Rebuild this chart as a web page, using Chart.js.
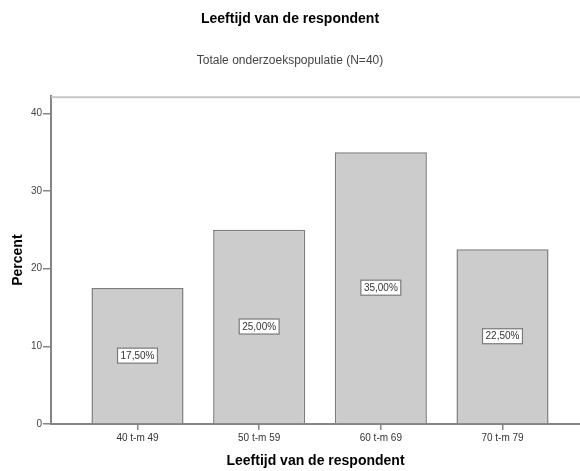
<!DOCTYPE html>
<html>
<head>
<meta charset="utf-8">
<script src="https://cdn.jsdelivr.net/npm/chart.js@4/dist/chart.umd.min.js"></script>
<style>
  html, body { margin: 0; padding: 0; background: #fff; overflow: hidden; }
  #wrap { width: 580px; height: 471px; position: relative; }
</style>
</head>
<body>
<div id="wrap"><canvas id="chart" width="580" height="471"></canvas></div>
<script>
// Age groups of the respondents and their share (percent)
const categories = ['40 t-m 49', '50 t-m 59', '60 t-m 69', '70 t-m 79'];
const percent = [17.5, 25.0, 35.0, 22.5];
const yTicks = [0, 10, 20, 30, 40];

const FONT = "'Liberation Sans', Arial, sans-serif";
const AXIS_GREY = '#858585';

// Dutch style value label: 17,50%
function fmt(v) {
  return v.toFixed(2).replace('.', ',') + '%';
}

// Boxed value labels in the middle of each bar
const boxedLabels = {
  id: 'boxedLabels',
  afterDatasetsDraw(chart) {
    const ctx = chart.ctx;
    const meta = chart.getDatasetMeta(0);
    ctx.save();
    ctx.font = '10px ' + FONT;
    ctx.textAlign = 'center';
    ctx.textBaseline = 'middle';
    meta.data.forEach((bar, i) => {
      const text = fmt(percent[i]);
      const w = ctx.measureText(text).width + 6;
      const h = 15;
      const cx = bar.x;
      const cy = (bar.y + bar.base) / 2;
      ctx.fillStyle = '#ffffff';
      ctx.fillRect(cx - w / 2, cy - h / 2, w, h);
      ctx.strokeStyle = '#7a7a7a';
      ctx.lineWidth = 1.2;
      ctx.strokeRect(cx - w / 2, cy - h / 2, w, h);
      ctx.fillStyle = '#333';
      ctx.fillText(text, cx, cy + 0.5);
    });
    ctx.restore();
  }
};

// Light frame line along the top of the plot area
const topFrame = {
  id: 'topFrame',
  beforeDatasetsDraw(chart) {
    const {ctx, chartArea} = chart;
    ctx.save();
    ctx.strokeStyle = '#c6c6c6';
    ctx.lineWidth = 2;
    ctx.beginPath();
    ctx.moveTo(chartArea.left, chartArea.top + 1);
    ctx.lineTo(chartArea.right, chartArea.top + 1);
    ctx.stroke();
    ctx.restore();
  }
};

new Chart(document.getElementById('chart'), {
  type: 'bar',
  data: {
    datasets: [{
      data: categories.map((c, i) => ({x: i + 1, y: percent[i]})),
      backgroundColor: '#cccccc',
      borderColor: '#7d7d7d',
      borderWidth: 1.5,
      barPercentage: 0.757,
      categoryPercentage: 1.0
    }]
  },
  options: {
    responsive: false,
    animation: false,
    layout: { padding: { left: 0, right: 0, top: 0, bottom: 0 } },
    plugins: {
      legend: { display: false },
      tooltip: { enabled: false },
      title: {
        display: true,
        text: 'Leeftijd van de respondent',
        color: '#000',
        font: { family: FONT, size: 14, weight: 'bold' },
        padding: { top: 11, bottom: 0 }
      },
      subtitle: {
        display: true,
        text: 'Totale onderzoekspopulatie (N=40)',
        color: '#444',
        font: { family: FONT, size: 12 },
        padding: { top: 26, bottom: 28 }
      }
    },
    scales: {
      x: {
        type: 'linear',
        offset: false,
        min: 0.289,
        max: 4.637,
        afterBuildTicks(scale) {
          scale.ticks = categories.map((c, i) => ({ value: i + 1 }));
        },
        afterFit(scale) { scale.height = 47; },
        ticks: {
          callback: (v) => categories[Math.round(v) - 1],
          color: '#333',
          font: { family: FONT, size: 10 },
          padding: 2,
          maxRotation: 0,
          autoSkip: false
        },
        grid: {
          display: true,
          offset: false,
          drawOnChartArea: false,
          drawTicks: true,
          tickLength: 6,
          color: AXIS_GREY,
          lineWidth: 1.5
        },
        border: { display: true, color: AXIS_GREY, width: 2 },
        title: {
          display: true,
          text: 'Leeftijd van de respondent',
          color: '#000',
          font: { family: FONT, size: 14, weight: 'bold' },
          padding: { top: 0, bottom: 1 }
        }
      },
      y: {
        min: 0,
        max: 42.2,
        afterBuildTicks(scale) {
          scale.ticks = yTicks.map(v => ({ value: v }));
        },
        afterFit(scale) { scale.width = 51; },
        ticks: {
          color: '#444',
          font: { family: FONT, size: 10 },
          padding: 1
        },
        grid: {
          display: true,
          drawOnChartArea: false,
          drawTicks: true,
          tickLength: 8,
          color: AXIS_GREY,
          lineWidth: 1.5
        },
        border: { display: true, color: AXIS_GREY, width: 2 },
        title: {
          display: true,
          text: 'Percent',
          color: '#000',
          font: { family: FONT, size: 14, weight: 'bold' },
          padding: { top: 10, bottom: 0 }
        }
      }
    }
  },
  plugins: [topFrame, boxedLabels]
});
</script>
</body>
</html>
